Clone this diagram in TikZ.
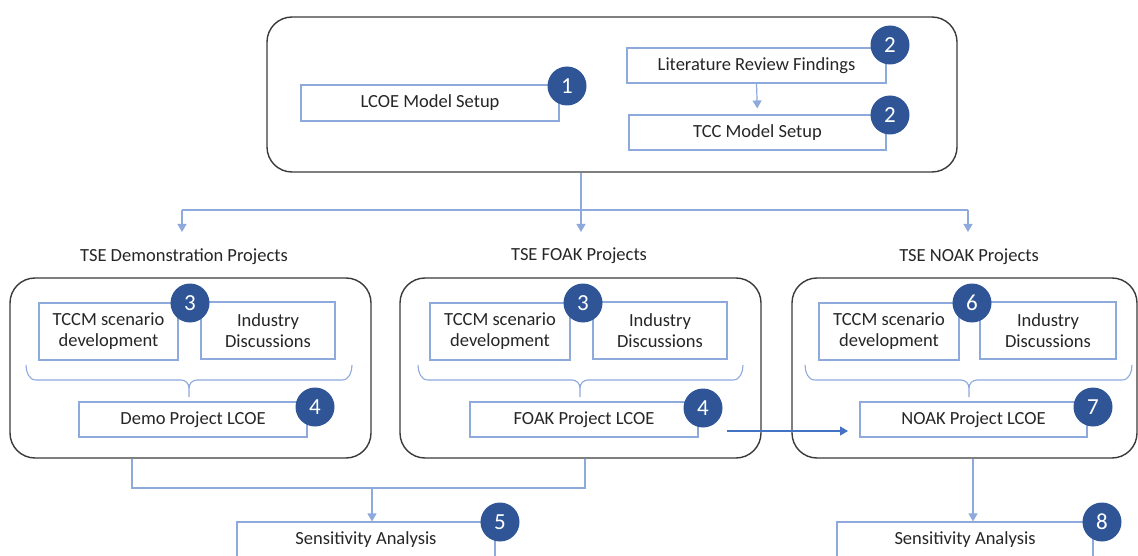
\documentclass[tikz,border=0pt]{standalone}
\usepackage{fontspec}
\setmainfont{Carlito}
\usetikzlibrary{arrows.meta}
\definecolor{lblue}{HTML}{8EA9DB}
\definecolor{dblue}{HTML}{2F5597}
\definecolor{mblue}{HTML}{4472C4}
\definecolor{frame}{HTML}{3A3A3A}
\definecolor{txt}{HTML}{262626}
\tikzset{
  bigbox/.style={draw=frame, line width=1.4pt, rounded corners=25pt, minimum width=#1},
  sbox/.style={draw=lblue, line width=1.1pt, fill=white, inner sep=0pt, text=txt, font=\fontsize{18.5}{21}\selectfont, align=center},
  badge/.style={circle, fill=dblue, text=white, minimum size=39pt, inner sep=0pt, font=\fontsize{23}{23}\selectfont},
  grouplbl/.style={font=\fontsize{18.5}{21}\selectfont, text=txt, inner sep=0pt},
  conn/.style={draw=lblue, line width=1.2pt},
  arr/.style={conn, -{Triangle[width=9pt,length=8pt]}},
  darr/.style={draw=mblue, line width=1.2pt, -{Triangle[width=9pt,length=8pt]}},
  bracepath/.style={draw=lblue, line width=1.1pt},
}
\begin{document}
\begin{tikzpicture}[x=1pt,y=-1pt]
\useasboundingbox (0,0) rectangle (1138,556);
\clip (0,0) rectangle (1138,556);
% top group
\node[bigbox=690pt, minimum height=155pt] (top) at (612,94.5) {};
\node[sbox, minimum width=258pt, minimum height=36pt] (lcoe) at (430,103) {LCOE Model Setup};
\node[sbox, minimum width=259pt, minimum height=35pt] (lit) at (756.5,65.5) {Literature Review Findings};
\node[sbox, minimum width=257pt, minimum height=35pt] (tcc) at (757.5,132.5) {TCC Model Setup};
\draw[arr, shorten >=6pt] (lit.south) -- (tcc.north);
\node[badge] (b1) at (567,86) {1};
\node[badge] (b2a) at (890,45) {2};
\node[badge] (b2b) at (890,115) {2};
% distribution
\coordinate (j) at (581,210);
\coordinate (jl) at (182,210);
\coordinate (jr) at (968,210);
\coordinate (a1) at (182,232);
\coordinate (a2) at (581,232);
\coordinate (a3) at (968,232);
\draw[conn] (top.south -| j) -- (j);
\draw[conn] (jl) -- (jr);
\draw[arr] (jl) -- (a1);
\draw[arr] (j) -- (a2);
\draw[arr] (jr) -- (a3);
\node[grouplbl] (l1) at (184,257) {TSE Demonstration Projects};
\node[grouplbl] (l2) at (579,256) {TSE FOAK Projects};
\node[grouplbl] (l3) at (969,257) {TSE NOAK Projects};
% group boxes
\node[bigbox=361pt, minimum height=180pt] (g1) at (190.5,368) {};
\node[bigbox=361pt, minimum height=180pt] (g2) at (580.5,368) {};
\node[bigbox=345pt, minimum height=180pt] (g3) at (964.5,368) {};
% inner boxes
\node[sbox, minimum width=139pt, minimum height=57pt] (t1) at (108.5,331.5) {TCCM scenario\\development};
\node[sbox, minimum width=134pt, minimum height=57pt] (i1) at (268,330.5) {Industry\\Discussions};
\node[sbox, minimum width=140pt, minimum height=57pt] (t2) at (500,331.5) {TCCM scenario\\development};
\node[sbox, minimum width=134pt, minimum height=57pt] (i2) at (660,330.5) {Industry\\Discussions};
\node[sbox, minimum width=140pt, minimum height=57pt] (t3) at (889,331.5) {TCCM scenario\\development};
\node[sbox, minimum width=136pt, minimum height=57pt] (i3) at (1048,330.5) {Industry\\Discussions};
% braces
\foreach \xa/\xc/\xb in {26/189/352, 418/580/743, 805/969/1132}{
  \draw[bracepath] (\xa,365) to[out=-90,in=180] (\xa+10,380) -- (\xc-8,380) to[out=0,in=90] (\xc,388) -- (\xc,397);
  \draw[bracepath] (\xc,388) to[out=90,in=180] (\xc+8,380) -- (\xb-10,380) to[out=0,in=-90] (\xb,365);
}
% LCOE boxes
\node[sbox, minimum width=228pt, minimum height=35pt] (d1) at (193,419.5) {Demo Project LCOE};
\node[sbox, minimum width=228pt, minimum height=35pt] (d2) at (584,419.5) {FOAK Project LCOE};
\node[sbox, minimum width=227pt, minimum height=35pt] (d3) at (973.5,419.5) {NOAK Project LCOE};
% FOAK -> NOAK
\coordinate (fs) at (727,431);
\coordinate (fe) at (848,431);
\draw[darr] (fs) -- (fe);
% badges
\node[badge] (b3a) at (190,303) {3};
\node[badge] (b3b) at (583,303) {3};
\node[badge] (b6) at (972,303) {6};
\node[badge] (b4a) at (315,407) {4};
\node[badge] (b4b) at (703,408) {4};
\node[badge] (b7) at (1093,407) {7};
% bottom
\node[sbox, minimum width=258pt, minimum height=36pt] (s1) at (366,540) {Sensitivity Analysis};
\node[sbox, minimum width=256pt, minimum height=36pt] (s2) at (965,540) {Sensitivity Analysis};
\coordinate (m1) at (132,488);
\coordinate (m2) at (585,488);
\coordinate (m3) at (372,488);
\draw[conn] (g1.south -| m1) -- (m1) -- (m2) -- (g2.south -| m2);
\draw[arr] (m3) -- (s1.north -| m3);
\coordinate (m4) at (973,459);
\draw[arr] (g3.south -| m4) -- (s2.north -| m4);
\node[badge] (b5) at (500,522) {5};
\node[badge] (b8) at (1102,522) {8};
\end{tikzpicture}
\end{document}
